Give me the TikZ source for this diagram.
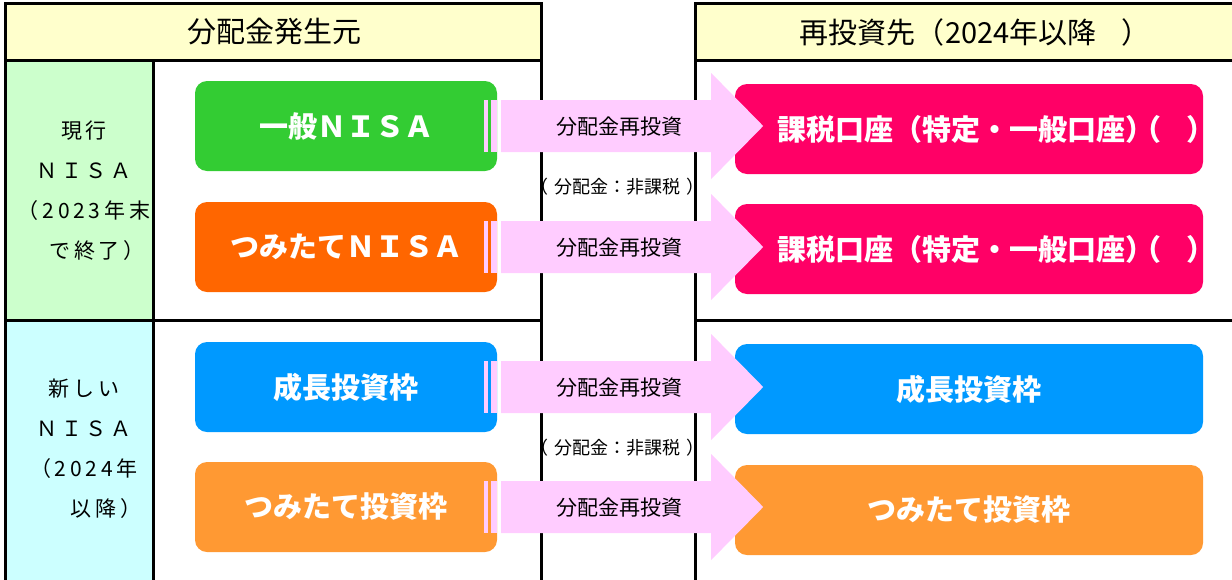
\documentclass[tikz,border=0pt]{standalone}
\usepackage{fontspec}
\newfontfamily\cjk{Noto Sans CJK JP}
\usetikzlibrary{calc}
\definecolor{hdrY}{HTML}{FFFFCC}
\definecolor{colG}{HTML}{CCFFCC}
\definecolor{colC}{HTML}{CCFFFF}
\definecolor{boxG}{HTML}{33CC33}
\definecolor{boxO}{HTML}{FF6600}
\definecolor{boxB}{HTML}{0099FF}
\definecolor{boxL}{HTML}{FF9933}
\definecolor{boxP}{HTML}{FF0066}
\definecolor{arrP}{HTML}{FFCCFF}
\newcommand\flowarrow[2]{%
  \fill[arrP] ($(#1.east)+(-13,-26)$) rectangle ($(#1.east)+(-9,26)$);
  \fill[arrP] ($(#1.east)+(-6,-26)$) rectangle ($(#1.east)+(0,26)$);
  \fill[arrP] ($(#1.east)+(4,-26)$) -- ($(#1.east)+(214,-26)$) -- ($(#1.east)+(214,-53)$)
     -- ($(#1.east)+(266,0)$) -- ($(#1.east)+(214,53)$) -- ($(#1.east)+(214,26)$)
     -- ($(#1.east)+(4,26)$) -- cycle;
  \node[flowlbl] (#2) at ($(#1.east)+(122,1)$) {分配金再投資};
}
\newcommand\taxacct{\makebox[0pt]{\hspace*{55pt}課税口座（特定・一般口座）\kern-22pt（　\kern-4pt）}}
\begin{document}
\begin{tikzpicture}[x=1pt,y=-1pt,
  tline/.style={line width=3pt,black},
  hdrtxt/.style={font=\cjk\fontsize{29}{32}\selectfont,text=black,inner sep=0pt},
  coltxt/.style={font=\cjk\fontsize{21}{40}\selectfont\addfontfeature{LetterSpace=18},align=center,inner sep=0pt},
  lbox/.style={rounded corners=12pt,minimum width=302pt,minimum height=90pt,inner sep=0pt,text=white,font=\cjk\bfseries\fontsize{29}{32}\selectfont},
  rbox/.style={rounded corners=12pt,minimum width=468pt,minimum height=90pt,inner sep=0pt,text=white,font=\cjk\bfseries\fontsize{29}{32}\selectfont},
  flowlbl/.style={font=\cjk\fontsize{21}{24}\selectfont,inner sep=0pt},
  notelbl/.style={font=\cjk\fontsize{18}{20}\selectfont,inner sep=0pt,anchor=west}]
\useasboundingbox (0,0) rectangle (1232,579);
\clip (0,0) rectangle (1232,579);
% fills
\fill[hdrY] (5,3) rectangle (541,60);
\fill[colG] (5,60) rectangle (153,320);
\fill[colC] (5,320) rectangle (153,590);
\fill[hdrY] (695,3) rectangle (1240,60);
% table lines
\draw[tline] (5,590) -- (5,3) -- (541,3) -- (541,590);
\draw[tline] (5,60) -- (541,60);
\draw[tline] (153,60) -- (153,590);
\draw[tline] (5,320) -- (541,320);
\draw[tline] (695,590) -- (695,3) -- (1240,3);
\draw[tline] (695,60) -- (1240,60);
\draw[tline] (695,320) -- (1240,320);
% headers
\node[hdrtxt] (h1) at (274,32) {分配金発生元};
\node[hdrtxt,anchor=west] (h2) at (799,32) {再投資先（\kern1pt 2024年以降\kern25pt）};
% left column labels
\node[coltxt] (c1) at (84,191) {現行\\ＮＩＳＡ\\（2023年末\\\hspace*{26pt}で終了）};
\node[coltxt] (c2) at (84,449) {新しい\\ＮＩＳＡ\\（2024年\\\hspace*{44pt}以降）};
% source boxes
\node[lbox,fill=boxG] (b1) at (346,126) {一般ＮＩＳＡ};
\node[lbox,fill=boxO] (b2) at (346,247) {つみたてＮＩＳＡ};
\node[lbox,fill=boxB] (b3) at (346,387) {成長投資枠};
\node[lbox,fill=boxL] (b4) at (346,507) {つみたて投資枠};
% destination boxes
\node[rbox,fill=boxP] (r1) at (969,129) {\taxacct};
\node[rbox,fill=boxP] (r2) at (969,249) {\taxacct};
\node[rbox,fill=boxB] (r3) at (969,389) {成長投資枠};
\node[rbox,fill=boxL] (r4) at (969,510) {つみたて投資枠};
% arrows
\flowarrow{b1}{f1}
\flowarrow{b2}{f2}
\flowarrow{b3}{f3}
\flowarrow{b4}{f4}
% notes
\node[notelbl] (n1) at (530.5,187) {（\kern5.5pt 分配金：非課税\kern6pt）};
\node[notelbl] (n2) at (530.5,448) {（\kern5.5pt 分配金：非課税\kern6pt）};
\end{tikzpicture}
\end{document}
